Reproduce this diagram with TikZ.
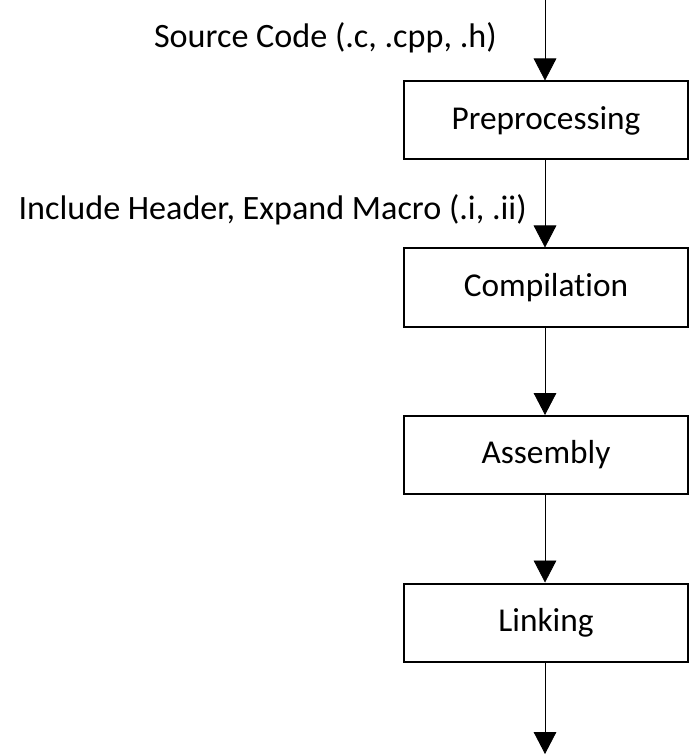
\documentclass[tikz,border=0pt]{standalone}
\usepackage{fontspec}
\setmainfont{Carlito}[Ligatures=NoCommon]
\usetikzlibrary{arrows.meta}
\begin{document}
\begin{tikzpicture}[x=0.75pt,y=-0.75pt,
  stage/.style={draw,line width=1.5pt,minimum width=284*0.75pt,minimum height=78*0.75pt,inner sep=0pt,font=\fontsize{25}{30}\selectfont},
  lbl/.style={font=\fontsize{25.6}{30}\selectfont,inner sep=0pt},
  flow/.style={line width=0.6pt,-{Triangle[width=17pt,length=16.5pt]}}]
\useasboundingbox (0,0) rectangle (690,755);
\node[stage] (pre) at (546,120.5) {Preprocessing};
\node[stage] (com) at (546,287.5) {Compilation};
\node[stage] (asm) at (546,455) {Assembly};
\node[stage] (lnk) at (546,622.5) {Linking};
\coordinate (top) at (545,0);
\coordinate (bot) at (545,754);
\draw[flow] (top) -- (pre.north -| top);
\draw[flow] (pre.south -| top) -- (com.north -| top);
\draw[flow] (com.south -| top) -- (asm.north -| top);
\draw[flow] (asm.south -| top) -- (lnk.north -| top);
\draw[flow] (lnk.south -| top) -- (bot);
\node[lbl,anchor=east] (src) at (497,38) {Source Code (.c, .cpp, .h)};
\node[lbl,anchor=east] (inc) at (527,210) {Include Header, Expand Macro (.i, .ii)};
\end{tikzpicture}
\end{document}
